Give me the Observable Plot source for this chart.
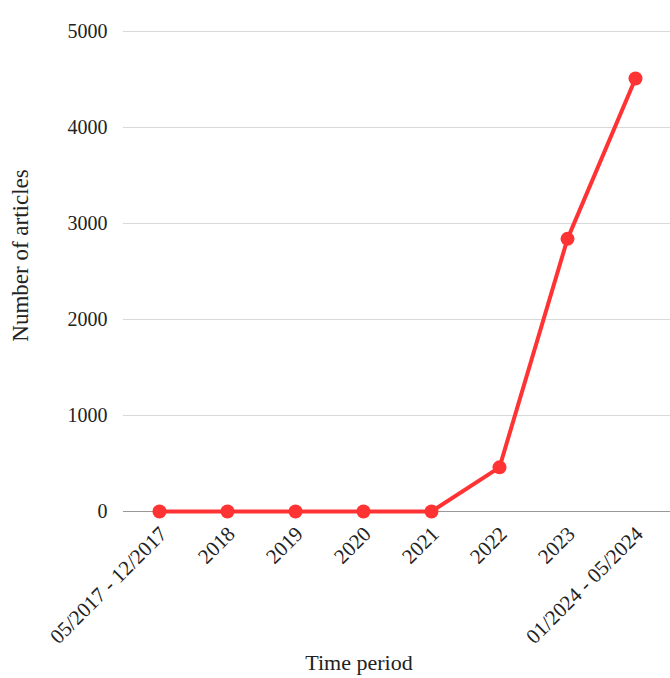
<!DOCTYPE html>
<html>
<head>
<meta charset="utf-8">
<script src="https://cdn.jsdelivr.net/npm/d3@7"></script>
<script src="https://cdn.jsdelivr.net/npm/@observablehq/plot@0.6"></script>
<style>
  html, body { margin: 0; padding: 0; background: #fff; }
  svg, svg text { font-family: "Liberation Serif", "Times New Roman", "DejaVu Serif", serif !important; }
</style>
</head>
<body>
<div id="chart"></div>
<script>
const periods = ["05/2017 - 12/2017", "2018", "2019", "2020", "2021", "2022", "2023", "01/2024 - 05/2024"];
const articles = [0, 0, 0, 0, 0, 460, 2840, 4510];
const yTicks = [0, 1000, 2000, 3000, 4000, 5000];

const data = periods.map((p, i) => ({period: p, count: articles[i]}));
const red = "#ff3333";
const font = "Liberation Serif";

const chart = Plot.plot({
  width: 670,
  height: 678,
  marginLeft: 123,
  marginRight: 0,
  marginTop: 31,
  marginBottom: 167,
  style: {fontFamily: font, fontSize: "20px", color: "#222"},
  x: {type: "point", domain: periods, padding: 0.5, label: null},
  y: {domain: [0, 5000], label: null},
  marks: [
    Plot.ruleY(yTicks.filter(d => d > 0), {stroke: "#d9d9d9", strokeWidth: 1.2}),
    Plot.ruleY([0], {stroke: "#999", strokeWidth: 1.2}),
    Plot.axisY(yTicks, {tickSize: 0, tickPadding: 16, label: null, fontSize: 20, tickFormat: d => String(d), fontFamily: font}),
    Plot.axisX({tickSize: 0, tickRotate: -45, tickPadding: 19, dx: 4, label: null, fontSize: 21, fontFamily: font}),
    Plot.line(data, {x: "period", y: "count", stroke: red, strokeWidth: 4}),
    Plot.dot(data, {x: "period", y: "count", fill: red, r: 7}),
    Plot.text(["Time period"], {frameAnchor: "bottom", dx: -38, dy: 158, fontSize: 22, fill: "#222", fontFamily: font}),
    Plot.text(["Number of articles"], {frameAnchor: "left", textAnchor: "middle", dx: -103, dy: -16, rotate: -90, fontSize: 23, fill: "#222", fontFamily: font})
  ]
});
document.getElementById("chart").appendChild(chart);
</script>
</body>
</html>
